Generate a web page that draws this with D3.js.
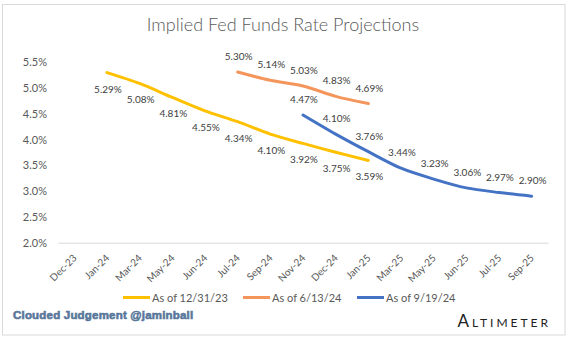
<!DOCTYPE html>
<html><head><meta charset="utf-8">
<script src="https://cdn.jsdelivr.net/npm/d3@7"></script>
<style>
html,body{margin:0;padding:0;background:#fff;}
svg{display:block;font-family:Lato,"Open Sans","Liberation Sans",sans-serif;}
</style></head>
<body>
<svg id="chart" width="571" height="339"></svg>
<script>
const categories = ["Dec-23","Jan-24","Mar-24","May-24","Jun-24","Jul-24","Sep-24","Nov-24","Dec-24","Jan-25","Mar-25","May-25","Jun-25","Jul-25","Sep-25"];
const yTicks = [2.0,2.5,3.0,3.5,4.0,4.5,5.0,5.5];

const s1Name = "As of 12/31/23";
const s1Cats = ["Jan-24","Mar-24","May-24","Jun-24","Jul-24","Sep-24","Nov-24","Dec-24","Jan-25"];
const s1Vals = [5.29,5.08,4.81,4.55,4.34,4.10,3.92,3.75,3.59];

const s2Name = "As of 6/13/24";
const s2Cats = ["Jul-24","Sep-24","Nov-24","Dec-24","Jan-25"];
const s2Vals = [5.30,5.14,5.03,4.83,4.69];

const s3Name = "As of 9/19/24";
const s3Cats = ["Nov-24","Dec-24","Jan-25","Mar-25","May-25","Jun-25","Jul-25","Sep-25"];
const s3Vals = [4.47,4.10,3.76,3.44,3.23,3.06,2.97,2.90];

const series = [
  {name:s1Name, cats:s1Cats, vals:s1Vals, color:"#FFC000", labelPos:"below"},
  {name:s2Name, cats:s2Cats, vals:s2Vals, color:"#F4955B", labelPos:"above"},
  {name:s3Name, cats:s3Cats, vals:s3Vals, color:"#4472C4", labelPos:"above"}
];

const svg = d3.select("#chart");

// outer border
svg.append("rect").attr("x",2.5).attr("y",4.5).attr("width",562.5).attr("height",330.5)
  .attr("fill","none").attr("stroke","#d9d9d9").attr("stroke-width",1);

// title
svg.append("text").attr("x",283).attr("y",31).attr("text-anchor","middle")
  .style("font-size","18px").style("font-weight",300).attr("fill","#595959")
  .text("Implied Fed Funds Rate Projections");

const x = d3.scaleBand().domain(categories).range([58,548]);
const y = d3.scaleLinear().domain([2.0,5.5]).range([242.7,61.7]);
const cx = c => x(c) + x.bandwidth()/2;

// y axis labels
const yAxis = d3.axisLeft(y).tickValues(yTicks).tickFormat(d => d3.format(".1f")(d)+"%").tickSize(0).tickPadding(0);
const yg = svg.append("g").attr("transform","translate(47,0)").call(yAxis);
yg.select(".domain").remove();
yg.selectAll("text").style("font-size","11px").attr("fill","#595959").style("font-family","Lato,sans-serif").attr("dy","0.35em");

// x axis
const xAxis = d3.axisBottom(x).tickSize(0).tickPadding(0);
const xg = svg.append("g").attr("transform","translate(0,242.7)").call(xAxis);
xg.select(".domain").attr("stroke","#d9d9d9").attr("stroke-width",1);
xg.selectAll(".tick text")
  .style("font-size","10px").attr("fill","#595959").style("font-family","Lato,sans-serif")
  .attr("text-anchor","end").attr("dy",0).attr("y",0)
  .attr("transform","translate(3,16) rotate(-45)");

const line = d3.line().x(d => cx(d.c)).y(d => y(d.v)).curve(d3.curveCardinal.tension(0.15));

series.forEach(s => {
  const pts = s.cats.map((c,i)=>({c, v:s.vals[i]}));
  svg.append("path").datum(pts).attr("d",line).attr("fill","none")
    .attr("stroke",s.color).attr("stroke-width",3).attr("stroke-linecap","round").attr("stroke-linejoin","round");
});

series.forEach(s => {
  const pts = s.cats.map((c,i)=>({c, v:s.vals[i]}));
  svg.append("g").selectAll("text").data(pts).join("text")
    .attr("x", d => cx(d.c)+1)
    .attr("y", d => y(d.v) + (s.labelPos==="below" ? 20 : -12))
    .attr("text-anchor","middle").style("font-size","10px").attr("fill","#404040")
    .text(d => d3.format(".2f")(d.v)+"%");
});

// legend
const legendX = [123, 243, 357];
series.forEach((s,i) => {
  const g = svg.append("g").attr("transform",`translate(${legendX[i]},297.5)`);
  g.append("line").attr("x1",0).attr("x2",27).attr("y1",0).attr("y2",0)
    .attr("stroke",s.color).attr("stroke-width",3);
  g.append("text").attr("x",29).attr("y",4).style("font-size","11px").attr("fill","#595959").text(s.name);
});

// footer
svg.append("text").attr("x",13).attr("y",319)
  .style("font-family","'Liberation Sans',Arial,sans-serif").style("font-size","11.5px").style("font-weight","bold")
  .style("letter-spacing","0.2px")
  .attr("fill","#58779a").attr("stroke","#58779a").attr("stroke-width",0.6)
  .text("Clouded Judgement @jaminball");

svg.append("text").attr("x",551).attr("y",327).attr("text-anchor","end")
  .style("font-size","17px").style("font-variant","small-caps").style("letter-spacing","3px")
  .attr("fill","#222").style("font-family","Lato,'Open Sans',sans-serif")
  .text("Altimeter");
</script>
</body></html>
